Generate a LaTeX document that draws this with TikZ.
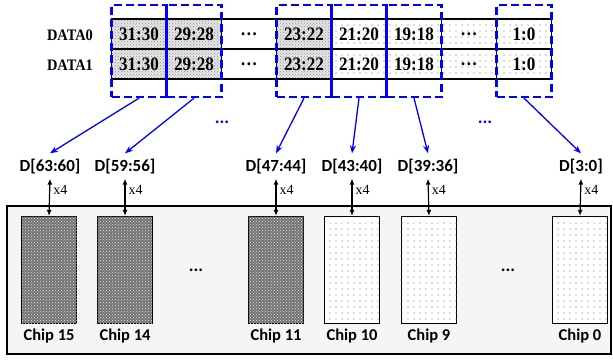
\documentclass[tikz,border=0pt]{standalone}
\usepackage{fontspec}
\setmainfont{Liberation Serif}
\newfontfamily\tabfont[FakeStretch=0.9]{Liberation Serif}
\newfontfamily\chipfont{Carlito}
\usetikzlibrary{arrows.meta,patterns,patterns.meta}

\begin{document}
\begin{tikzpicture}[x=1pt,y=-1pt,
    cell/.style={draw, line width=0.6pt, minimum width=55pt, minimum height=30pt, inner sep=0pt,
      font=\tabfont\bfseries\fontsize{19}{19}\selectfont},
    hicell/.style={cell, fill=gray!20, postaction={pattern=crosshatch dots, pattern color=gray!85}},
    locell/.style={cell, fill=white, postaction={pattern={Dots[distance=6pt,radius=0.65pt]}, pattern color=black!55}},
    selbox/.style={draw=blue, dashed, dash pattern=on 8pt off 4pt, line width=2.3pt,
      minimum width=55pt, minimum height=92pt, inner sep=0pt},
    rowlabel/.style={font=\tabfont\bfseries\fontsize{16}{16}\selectfont},
    bus/.style={font=\chipfont\bfseries\fontsize{17}{17}\selectfont, inner sep=1pt},
    chiphi/.style={draw, line width=1.2pt, minimum width=55pt, minimum height=107pt, inner sep=0pt,
      fill=black!55, postaction={pattern=crosshatch dots, pattern color=gray!20}},
    chiplo/.style={draw, line width=1.2pt, minimum width=55pt, minimum height=107pt, inner sep=0pt,
      fill=white, postaction={pattern={Dots[distance=6pt,radius=0.7pt]}, pattern color=black!55}},
    chipname/.style={font=\chipfont\bfseries\fontsize{16.5}{16.5}\selectfont},
    mult/.style={font=\fontsize{14}{14}\selectfont, inner sep=3pt},
    sel/.style={blue, line width=1.3pt, -{Stealth[length=8pt,width=6pt]}},
    link/.style={line width=1.2pt, {Latex[length=6pt,width=5pt]}-{Latex[length=6pt,width=5pt]}},
    gap/.style={font=\chipfont\bfseries\fontsize{18}{18}\selectfont}
  ]
  \useasboundingbox (0,0) rectangle (613,361);

  % Memory module
  \node[draw, line width=1.2pt, fill=gray!8, minimum width=604pt, minimum height=148pt, inner sep=0pt] (board) at (309,280) {};

  % Data words
  \node[rowlabel] (data0) at (70,35) {DATA0};
  \node[rowlabel] (data1) at (70,65) {DATA1};

  \node[hicell] (a1) at (139,34) {31:30};
  \node[hicell] (a2) at (194,34) {29:28};
  \node[cell]   (a3) at (249,34) {\dots};
  \node[hicell] (a4) at (304,34) {23:22};
  \node[locell] (a5) at (359,34) {21:20};
  \node[locell] (a6) at (414,34) {19:18};
  \node[locell] (a7) at (469,34) {\dots};
  \node[locell] (a8) at (524,34) {1:0};

  \node[hicell] (b1) at (139,64) {31:30};
  \node[hicell] (b2) at (194,64) {29:28};
  \node[cell]   (b3) at (249,64) {\dots};
  \node[hicell] (b4) at (304,64) {23:22};
  \node[locell] (b5) at (359,64) {21:20};
  \node[locell] (b6) at (414,64) {19:18};
  \node[locell] (b7) at (469,64) {\dots};
  \node[locell] (b8) at (524,64) {1:0};

  \draw[line width=1.6pt] (a1.north west) -- (a8.north east);
  \draw[line width=1.6pt] (a1.south west) -- (a8.south east);
  \draw[line width=1.6pt] (b1.south west) -- (b8.south east);

  % Nibble selection
  \node[selbox] (s1) at (139,51) {};
  \node[selbox] (s2) at (194,51) {};
  \node[selbox] (s3) at (304,51) {};
  \node[selbox] (s4) at (359,51) {};
  \node[selbox] (s5) at (414,51) {};
  \node[selbox] (s6) at (524,51) {};

  \node[gap, blue] (g1) at (222,122) {...};
  \node[gap, blue] (g2) at (485,122) {...};

  % Bus slices
  \node[bus] (d15) at (50,167) {D[63:60]};
  \node[bus] (d14) at (125,167) {D[59:56]};
  \node[bus] (d11) at (276,167) {D[47:44]};
  \node[bus] (d10) at (352,167) {D[43:40]};
  \node[bus] (d9)  at (428,167) {D[39:36]};
  \node[bus] (d0)  at (581,167) {D[3:0]};

  \draw[sel] (s1.south) -- ([yshift=5pt]d15.north);
  \draw[sel] (s2.south) -- ([yshift=5pt]d14.north);
  \draw[sel] (s3.south) -- ([yshift=5pt]d11.north);
  \draw[sel] (s4.south) -- ([yshift=5pt]d10.north);
  \draw[sel] (s5.south) -- ([yshift=5pt]d9.north);
  \draw[sel] (s6.south) -- ([yshift=5pt]d0.north);

  % Chips
  \node[chiphi] (c15) at (49,270) {};
  \node[chiphi] (c14) at (125,270) {};
  \node[chiphi] (c11) at (276,270) {};
  \node[chiplo] (c10) at (352,270) {};
  \node[chiplo] (c9)  at (429,270) {};
  \node[chiplo] (c0)  at (580,270) {};

  \node[chipname] (n15) at (49,336) {Chip 15};
  \node[chipname] (n14) at (125,336) {Chip 14};
  \node[chipname] (n11) at (276,336) {Chip 11};
  \node[chipname] (n10) at (352,336) {Chip 10};
  \node[chipname] (n9)  at (429,336) {Chip 9};
  \node[chipname] (n0)  at (580,336) {Chip 0};

  \node[gap] (g3) at (196,270) {...};
  \node[gap] (g4) at (508,270) {...};

  \draw[link] ([yshift=-3pt]d15.south) -- node[pos=0.3, right, mult] {x4} (c15.north);
  \draw[link] ([yshift=-3pt]d14.south) -- node[pos=0.3, right, mult] {x4} (c14.north);
  \draw[link] ([yshift=-3pt]d11.south) -- node[pos=0.3, right, mult] {x4} (c11.north);
  \draw[link] ([yshift=-3pt]d10.south) -- node[pos=0.3, right, mult] {x4} (c10.north);
  \draw[link] ([yshift=-3pt]d9.south)  -- node[pos=0.3, right, mult] {x4} (c9.north);
  \draw[link] ([yshift=-3pt]d0.south)  -- node[pos=0.3, right, mult] {x4} (c0.north);
\end{tikzpicture}
\end{document}
